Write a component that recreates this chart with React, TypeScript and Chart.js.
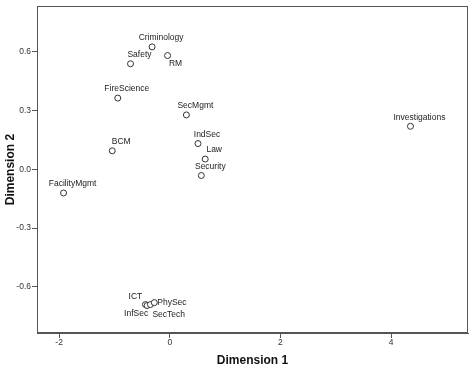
import React, { useEffect, useRef } from "react";
import { Chart, registerables } from "chart.js";

Chart.register(...registerables);

const names = [
  "Criminology", "RM", "Safety", "FireScience", "SecMgmt", "IndSec", "Law",
  "Security", "BCM", "FacilityMgmt", "Investigations", "ICT", "InfSec", "SecTech", "PhySec",
];
const dim1 = [-0.32, -0.04, -0.71, -0.94, 0.3, 0.51, 0.64, 0.57, -1.04, -1.92, 4.35, -0.44, -0.41, -0.35, -0.28];
const dim2 = [0.624, 0.58, 0.538, 0.363, 0.277, 0.131, 0.052, -0.032, 0.094, -0.121, 0.219, -0.69, -0.695, -0.69, -0.68];
const labelPlacement = ["tr", "br", "tr", "tr", "tr", "tr", "tr", "tr", "tr", "tr", "tr", "tl", "bl", "brl", "r"];
const xTicks = [-2, 0, 2, 4];
const yTicks = [-0.6, -0.3, 0.0, 0.3, 0.6];

const FONT = "'Liberation Sans', Arial, sans-serif";

const placements: Record<string, { dx: number; dy: number; align: CanvasTextAlign }> = {
  tr: { dx: 9, dy: -9, align: "center" },
  br: { dx: 8, dy: 8, align: "center" },
  tl: { dx: -10, dy: -8, align: "center" },
  bl: { dx: -11, dy: 8, align: "center" },
  r: { dx: 3, dy: 0, align: "left" },
  brl: { dx: 2, dy: 10, align: "left" },
};

const pointLabelPlugin = {
  id: "pointLabels",
  afterDatasetsDraw(chart: any) {
    const ctx = chart.ctx;
    const meta = chart.getDatasetMeta(0);
    ctx.save();
    ctx.font = `8.5px ${FONT}`;
    ctx.fillStyle = "#222";
    ctx.textBaseline = "middle";
    meta.data.forEach((el: any, i: number) => {
      const p = placements[labelPlacement[i]] || placements.tr;
      ctx.textAlign = p.align;
      ctx.fillText(names[i], el.x + p.dx, el.y + p.dy);
    });
    ctx.restore();
  },
};

const framePlugin = {
  id: "frame",
  afterDraw(chart: any) {
    const { ctx, chartArea } = chart;
    ctx.save();
    ctx.strokeStyle = "#555";
    ctx.lineWidth = 1;
    ctx.strokeRect(
      Math.round(chartArea.left) + 0.5,
      Math.round(chartArea.top) + 0.5,
      Math.round(chartArea.right - chartArea.left) - 1,
      Math.round(chartArea.bottom - chartArea.top) - 1
    );
    ctx.restore();
  },
};

export default function App() {
  const ref = useRef<HTMLCanvasElement | null>(null);
  useEffect(() => {
    document.body.style.margin = "0";
    if (!ref.current) return;
    const chart = new Chart(ref.current, {
      type: "scatter",
      data: {
        datasets: [
          {
            data: dim1.map((x, i) => ({ x, y: dim2[i] })),
            pointRadius: 3,
            pointHoverRadius: 3,
            pointBorderWidth: 1,
            pointBorderColor: "#333",
            pointBackgroundColor: "#fff",
            showLine: false,
          },
        ],
      },
      options: {
        animation: false,
        responsive: false,
        events: [],
        layout: { padding: { top: 3, right: 2, left: 0, bottom: 0 } },
        plugins: { legend: { display: false }, tooltip: { enabled: false } },
        scales: {
          x: {
            type: "linear",
            min: -2.4,
            max: 5.39,
            afterBuildTicks: (s: any) => {
              s.ticks = xTicks.map((v) => ({ value: v }));
            },
            afterFit: (s: any) => {
              s.height = 35;
            },
            ticks: {
              font: { family: FONT, size: 8.5 },
              color: "#333",
              padding: 0,
              maxRotation: 0,
              callback: (v: any) => String(v),
            },
            grid: { drawOnChartArea: false, drawTicks: true, tickLength: 5, color: "#555" },
            border: { display: true, color: "#555" },
            title: {
              display: true,
              text: "Dimension 1",
              font: { family: FONT, size: 12, weight: "bold" },
              color: "#111",
              padding: { top: 0, bottom: 0 },
            },
          },
          y: {
            type: "linear",
            min: -0.835,
            max: 0.832,
            afterBuildTicks: (s: any) => {
              s.ticks = yTicks.map((v) => ({ value: v }));
            },
            afterFit: (s: any) => {
              s.width = 37;
            },
            ticks: {
              font: { family: FONT, size: 8.5 },
              color: "#333",
              padding: 1,
              callback: (v: any) => Number(v).toFixed(1),
            },
            grid: { drawOnChartArea: false, drawTicks: true, tickLength: 5, color: "#555" },
            border: { display: true, color: "#555" },
            title: {
              display: true,
              text: "Dimension 2",
              font: { family: FONT, size: 12, weight: "bold" },
              color: "#111",
              padding: { top: 3, bottom: 0 },
            },
          },
        },
      },
      plugins: [pointLabelPlugin, framePlugin],
    } as any);
    return () => chart.destroy();
  }, []);
  return (
    <div style={{ width: 472, height: 368 }}>
      <canvas ref={ref} width={472} height={368} />
    </div>
  );
}
